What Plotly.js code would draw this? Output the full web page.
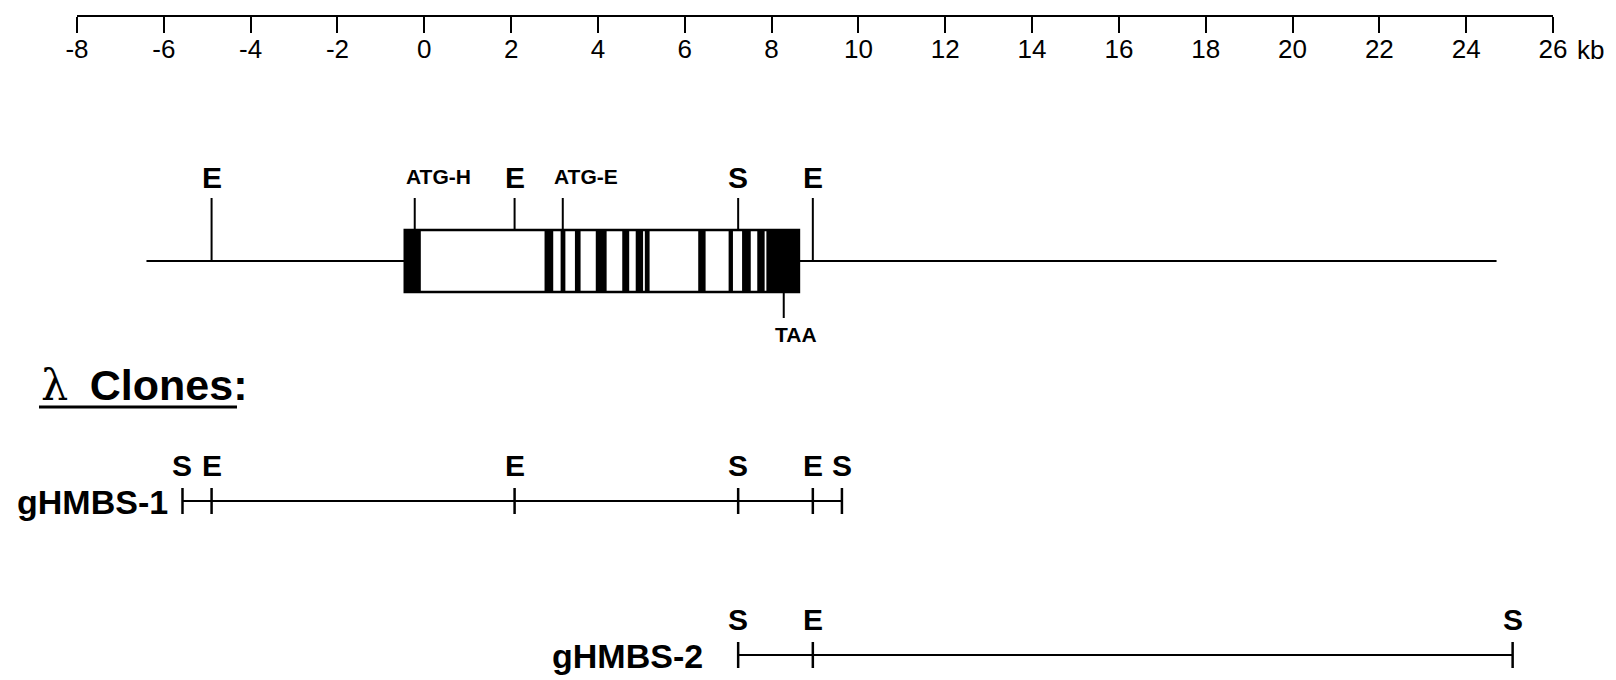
<!DOCTYPE html>
<html><head><meta charset="utf-8">
<script src="https://cdn.plot.ly/plotly-3.0.1.min.js"></script>
<style>html,body{margin:0;padding:0;background:#fff}#chart{width:1616px;height:680px}</style>
</head><body><div id="chart"></div>
<script>
// ---------- data (positions in kb) ----------
const scaleTicks = [-8,-6,-4,-2,0,2,4,6,8,10,12,14,16,18,20,22,24,26];
const scaleTickText = ['-8','-6','-4','-2','0','2','4','6','8','10','12','14','16','18','20','22','24','26'];
const scaleUnit = 'kb';

const geneStart = -6.4;
const geneEnd = 24.7;
const codingStart = -0.45;
const codingEnd = 8.63;
const exonStart = [-0.45, 2.77, 3.14, 3.47, 3.95, 4.56, 4.87, 5.08, 6.31, 7.01, 7.32, 7.67, 7.88];
const exonEnd   = [-0.08, 2.97, 3.25, 3.60, 4.20, 4.72, 5.04, 5.19, 6.48, 7.11, 7.52, 7.84, 8.63];

const geneSitePos = [-4.9, 2.08, 7.23, 8.95];
const geneSiteLabel = ['E', 'E', 'S', 'E'];
const featurePos = [-0.22, 3.19, 8.28];
const featureLabel = ['ATG-H', 'ATG-E', 'TAA'];
const featureSide = ['above', 'above', 'below'];

const cloneTitle = 'λ Clones:';
const cloneNames = ['gHMBS-1', 'gHMBS-2'];
const clone1Pos = [-5.57, -4.9, 2.08, 7.23, 8.95, 9.62];
const clone1Label = ['S', 'E', 'E', 'S', 'E', 'S'];
const clone2Pos = [7.23, 8.95, 25.07];
const clone2Label = ['S', 'E', 'S'];

// ---------- layout constants (pixel rows, sizes, styles) ----------
const W = 1616, H = 680;
const FONT = 'Liberation Sans, Arial, Helvetica, sans-serif';
const AXIS_Y = 15.5;
const GENE_Y = 261, BOX_H = 62;
const BOX_TOP = GENE_Y - BOX_H / 2, BOX_BOT = GENE_Y + BOX_H / 2;
const STEM_TOP = 198;
const SITE_LABEL_Y = 177, FEAT_LABEL_Y = 176;
const TAA_STEM_END = 318, TAA_LABEL_Y = 334;
const CLONE_Y = [501, 655];
const CLONE_TICK = 13;
const CLONE_LABEL_DY = -36;
const NAME_DY = 1;
const NAME_GAP = [12, 33];

const clonePos = [clone1Pos, clone2Pos];
const cloneLab = [clone1Label, clone2Label];

const traces = [];
// genomic line (left and right flanks of the coding box)
traces.push({type:'scatter', mode:'lines', x:[geneStart, codingStart, null, codingEnd, geneEnd],
  y:[GENE_Y, GENE_Y, null, GENE_Y, GENE_Y], line:{color:'black', width:2.2}, hoverinfo:'skip'});
// coding region box
traces.push({type:'bar', orientation:'h', y:[GENE_Y], base:[codingStart], x:[codingEnd - codingStart],
  width:[BOX_H], marker:{color:'white', line:{color:'black', width:2.5}}, hoverinfo:'skip'});
// exons
traces.push({type:'bar', orientation:'h', y:exonStart.map(() => GENE_Y), base:exonStart,
  x:exonStart.map((s, i) => exonEnd[i] - s), width:exonStart.map(() => BOX_H),
  marker:{color:'black', line:{width:0}}, hoverinfo:'skip'});

// stems of restriction sites and features
const sx = [], sy = [];
geneSitePos.forEach(p => {
  const inside = p >= codingStart && p <= codingEnd;
  sx.push(p, p, null); sy.push(STEM_TOP, inside ? BOX_TOP : GENE_Y, null);
});
featurePos.forEach((p, i) => {
  if (featureSide[i] === 'above') { sx.push(p, p, null); sy.push(STEM_TOP, BOX_TOP, null); }
  else { sx.push(p, p, null); sy.push(BOX_BOT, TAA_STEM_END, null); }
});
traces.push({type:'scatter', mode:'lines', x:sx, y:sy, line:{color:'black', width:2}, hoverinfo:'skip'});

// clones
clonePos.forEach((pos, c) => {
  const y0 = CLONE_Y[c];
  traces.push({type:'scatter', mode:'lines', x:[pos[0], pos[pos.length - 1]], y:[y0, y0],
    line:{color:'black', width:2.2}, hoverinfo:'skip'});
  const tx = [], ty = [];
  pos.forEach(p => { tx.push(p, p, null); ty.push(y0 - CLONE_TICK, y0 + CLONE_TICK, null); });
  traces.push({type:'scatter', mode:'lines', x:tx, y:ty, line:{color:'black', width:2.5}, hoverinfo:'skip'});
});

// ---------- annotations ----------
const ann = [];
const txt = (x, y, text, size, opts) => Object.assign({x:x, y:y, xref:'x', yref:'y', text:text,
  showarrow:false, xanchor:'center', yanchor:'middle',
  font:{family:FONT, size:size, color:'black'}}, opts || {});

ann.push(txt(scaleTicks[scaleTicks.length - 1], 50, scaleUnit, 26, {xanchor:'left', xshift:22}));
geneSitePos.forEach((p, i) => ann.push(txt(p, SITE_LABEL_Y, '<b>' + geneSiteLabel[i] + '</b>', 30)));
featurePos.forEach((p, i) => {
  const y = featureSide[i] === 'above' ? FEAT_LABEL_Y : TAA_LABEL_Y;
  ann.push(txt(p, y, '<b>' + featureLabel[i] + '</b>', 21, {xanchor:'left', xshift:-11}));
});
clonePos.forEach((pos, c) => {
  pos.forEach((p, i) => ann.push(txt(p, CLONE_Y[c] + CLONE_LABEL_DY, '<b>' + cloneLab[c][i] + '</b>', 30)));
  ann.push(txt(pos[0], CLONE_Y[c] + NAME_DY, '<b>' + cloneNames[c] + '</b>', 34,
    {xanchor:'right', xshift:-NAME_GAP[c]}));
});
const lam = cloneTitle.split(' ');
ann.push({x:(39 - 77) / (W - 77 - 63), xref:'paper', y:385, yref:'y', xanchor:'left', yanchor:'middle',
  showarrow:false, font:{family:FONT, size:43, color:'black'},
  text:'<span style="font-family:DejaVu Serif;font-weight:normal">' + lam[0] + '</span>&#8194;<b>' + lam.slice(1).join(' ') + '</b>'});

const layout = {
  width:W, height:H, margin:{l:77, r:63, t:0, b:0, pad:0},
  paper_bgcolor:'white', plot_bgcolor:'white', showlegend:false, barmode:'overlay',
  hovermode:false,
  xaxis:{range:[-8, 26], anchor:'free', position:1 - AXIS_Y / H, side:'bottom',
    showline:true, linecolor:'black', linewidth:2.5, ticks:'outside', ticklen:16, tickwidth:2,
    tickcolor:'black', tickvals:scaleTicks, ticktext:scaleTickText, ticklabelstandoff:-6,
    tickfont:{family:FONT, size:26, color:'black'}, showgrid:false, zeroline:false, fixedrange:true},
  yaxis:{range:[H, 0], visible:false, fixedrange:true},
  annotations:ann,
  shapes:[{type:'line', xref:'paper', yref:'y', x0:(39 - 77) / (W - 77 - 63), x1:(237 - 77) / (W - 77 - 63),
    y0:407, y1:407, line:{color:'black', width:3}}]
};
Plotly.newPlot('chart', traces, layout, {displayModeBar:false, staticPlot:true});
</script></body></html>
